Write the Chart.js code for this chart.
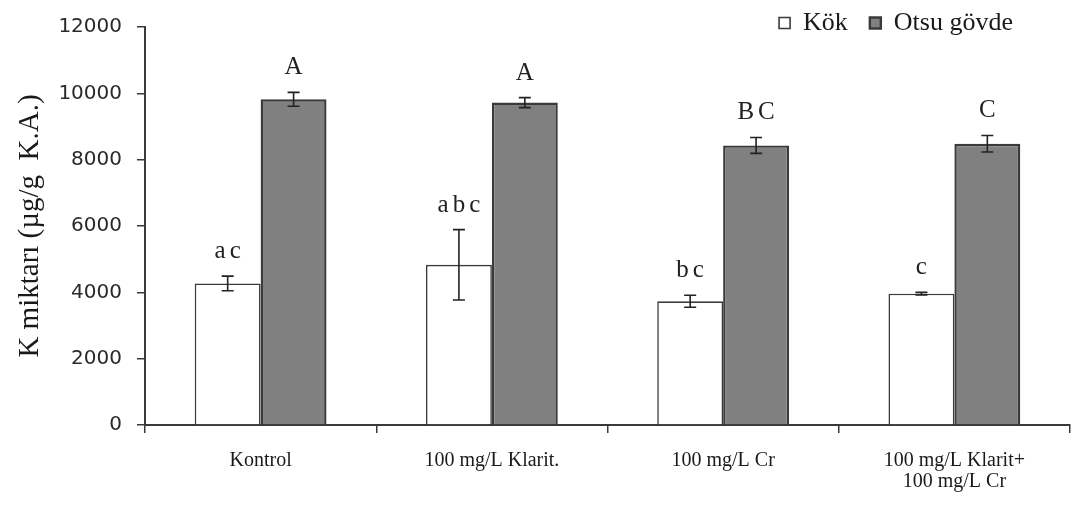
<!DOCTYPE html>
<html lang="tr">
<head>
<meta charset="utf-8">
<title>K miktarı</title>
<script src="https://cdn.jsdelivr.net/npm/chart.js@4.4.1/dist/chart.umd.min.js"></script>
<style>
  html, body { margin: 0; padding: 0; background: #fff; }
  #kutu { width: 1076px; height: 510px; }
</style>
</head>
<body>
<div id="kutu"><canvas id="grafik" width="1076" height="510"></canvas></div>
<script>
// uygulamalar ve ölçülen K miktarları (µg/g K.A.)
const kategoriler = ['Kontrol', '100 mg/L Klarit.', '100 mg/L Cr', ['100 mg/L Klarit+', '100 mg/L Cr']];
const kokDegerleri = [4270, 4830, 3730, 3960];
const kokHatalari = [220, 1060, 180, 40];
const govdeDegerleri = [9820, 9720, 8430, 8480];
const govdeHatalari = [210, 150, 240, 250];
const kokHarfleri = ['ac', 'abc', 'bc', 'c'];
const govdeHarfleri = ['A', 'A', 'BC', 'C'];
const hatalar = [kokHatalari, govdeHatalari];
const harfler = [kokHarfleri, govdeHarfleri];

const serif = '"Liberation Serif", "Times New Roman", serif';
const cizgi = '#3a3a3a';

// hata çubukları ve harfler, çubuklar çizildikten sonra
const hataCubuklari = {
  id: 'hataCubuklari',
  afterDatasetsDraw(chart) {
    const ctx = chart.ctx;
    const y = chart.scales.y;
    ctx.save();
    chart.data.datasets.forEach((ds, i) => {
      const meta = chart.getDatasetMeta(i);
      meta.data.forEach((bar, j) => {
        const deger = ds.data[j];
        const ust = y.getPixelForValue(deger + hatalar[i][j]);
        const alt = y.getPixelForValue(deger - hatalar[i][j]);
        ctx.strokeStyle = '#222';
        ctx.lineWidth = 1.6;
        ctx.beginPath();
        ctx.moveTo(bar.x, ust);
        ctx.lineTo(bar.x, alt);
        ctx.moveTo(bar.x - 6, ust);
        ctx.lineTo(bar.x + 6, ust);
        ctx.moveTo(bar.x - 6, alt);
        ctx.lineTo(bar.x + 6, alt);
        ctx.stroke();

        ctx.fillStyle = '#222';
        ctx.font = '25px ' + serif;
        ctx.letterSpacing = '4px';
        ctx.textAlign = 'center';
        ctx.textBaseline = 'alphabetic';
        ctx.fillText(harfler[i][j], bar.x + 2, ust - 18);
      });
    });
    ctx.restore();
  }
};

// lejant çizim alanını daraltmasın, sağ üst köşede dursun
const lejantYeri = {
  id: 'lejantYeri',
  afterLayout(chart) {
    const lj = chart.legend;
    if (!lj) return;
    lj.top = -12;
    lj.bottom = 40;
    lj.right = 1035;
    lj.left = 700;
  }
};

const ctx = document.getElementById('grafik').getContext('2d');
const grafik = new Chart(ctx, {
  type: 'bar',
  data: {
    labels: kategoriler,
    datasets: [
      {
        label: 'Kök',
        data: kokDegerleri,
        backgroundColor: '#ffffff',
        borderColor: cizgi,
        borderWidth: 1.6,
        categoryPercentage: 0.57,
        barPercentage: 1.0
      },
      {
        label: 'Otsu gövde',
        data: govdeDegerleri,
        backgroundColor: '#808080',
        borderColor: cizgi,
        borderWidth: 2.4,
        categoryPercentage: 0.57,
        barPercentage: 1.0
      }
    ]
  },
  options: {
    responsive: false,
    animation: false,
    layout: { padding: { top: 13, right: 6, bottom: 0, left: 0 } },
    plugins: {
      legend: {
        position: 'top',
        align: 'end',
        maxHeight: 4,
        labels: {
          font: { family: serif, size: 26 },
          color: '#1a1a1a',
          boxWidth: 11,
          boxHeight: 11,
          padding: 22
        }
      },
      tooltip: { enabled: false }
    },
    scales: {
      x: {
        grid: {
          offset: true,
          drawOnChartArea: false,
          color: cizgi,
          lineWidth: 1.5,
          tickLength: 8
        },
        border: { color: cizgi, width: 2 },
        ticks: {
          font: { family: serif, size: 20, lineHeight: 1.05 },
          color: '#1a1a1a',
          padding: 17,
          maxRotation: 0,
          autoSkip: false
        },
        afterFit(scale) { scale.height = 85; }
      },
      y: {
        min: 0,
        max: 12000,
        ticks: {
          stepSize: 2000,
          callback: (v) => String(v),
          font: { family: '"DejaVu Sans", sans-serif', size: 20 },
          color: '#2a2a2a',
          padding: 15
        },
        grid: {
          drawOnChartArea: false,
          color: cizgi,
          lineWidth: 1.5,
          tickLength: 8
        },
        border: { color: cizgi, width: 2 },
        title: {
          display: true,
          text: 'K miktarı (µg/g  K.A.)',
          font: { family: serif, size: 29 },
          color: '#1a1a1a',
          padding: { top: 13, bottom: 0 }
        },
        afterFit(scale) { scale.width = 145; }
      }
    }
  },
  plugins: [hataCubuklari, lejantYeri]
});
</script>
</body>
</html>
